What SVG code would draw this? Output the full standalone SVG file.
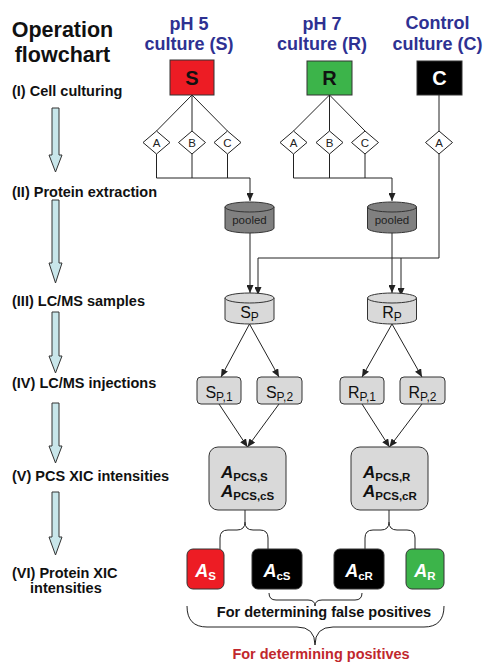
<svg xmlns="http://www.w3.org/2000/svg" width="484" height="663" viewBox="0 0 484 663">
<defs>
<style>
text{font-family:"Liberation Sans",Arial,sans-serif}
.title{font-size:21.5px;font-weight:bold;fill:#111}
.hdr{font-size:18px;font-weight:bold;fill:#2e3192;text-anchor:middle}
.lbl{font-size:14.5px;font-weight:bold;fill:#111}
.step{fill:#c8e6ea;stroke:#333;stroke-width:1}
.box{stroke:#333;stroke-width:1}
.letter{font-size:20px;font-weight:bold;text-anchor:middle}
.dia{fill:#fff;stroke:#222;stroke-width:1}
.dtxt{font-size:11.5px;text-anchor:middle;fill:#222}
.cyl-d{fill:#808080;stroke:#333;stroke-width:1}
.cyl-l{fill:#d9d9d9;stroke:#333;stroke-width:1}
.reg{font-size:16px;fill:#111;text-anchor:middle}
.inj{fill:#d9d9d9;stroke:#333;stroke-width:1}
.ab{font-size:17px;font-weight:bold;font-style:italic;fill:#111}
.sb{font-size:11.5px;font-weight:bold;font-style:normal}
.res{font-size:18px;font-weight:bold;font-style:italic;fill:#fff;text-anchor:middle}
.conn{fill:none;stroke:#222;stroke-width:1}
.brace{fill:none;stroke:#222;stroke-width:1}
.note{font-size:14.5px;font-weight:bold;text-anchor:middle}
</style>
<marker id="ah" markerUnits="userSpaceOnUse" markerWidth="8" markerHeight="7" refX="8" refY="3.5" orient="auto">
<path d="M0,0 L8,3.5 L0,7 z" fill="#222"/>
</marker>
</defs>
<rect width="484" height="663" fill="#fff"/>

<g id="title">
<text class="title" x="62.5" y="37" text-anchor="middle">Operation</text>
<text class="title" x="62.5" y="62" text-anchor="middle">flowchart</text>
</g>

<g id="steps">
<text class="lbl" x="12" y="96">(I) Cell culturing</text>
<text class="lbl" x="12" y="197">(II) Protein extraction</text>
<text class="lbl" x="12" y="306">(III) LC/MS samples</text>
<text class="lbl" x="12" y="388">(IV) LC/MS injections</text>
<text class="lbl" x="12" y="481">(V) PCS XIC intensities</text>
<text class="lbl" x="12" y="578">(VI) Protein XIC</text>
<text class="lbl" x="30" y="593">intensities</text>
<polygon class="step" points="52,108 59,108 59,155 62,155 55.5,172 49,155 52,155"/>
<polygon class="step" points="52,200 59,200 59,263 62,263 55.5,283 49,263 52,263"/>
<polygon class="step" points="52,312 59,312 59,356 62,356 55.5,373 49,356 52,356"/>
<polygon class="step" points="52,403 59,403 59,446 62,446 55.5,463 49,446 52,446"/>
<polygon class="step" points="52,492 59,492 59,537 62,537 55.5,555 49,537 52,537"/>
</g>

<g id="headers">
<text class="hdr" x="189" y="30">pH 5</text>
<text class="hdr" x="189" y="50">culture (S)</text>
<text class="hdr" x="322" y="30">pH 7</text>
<text class="hdr" x="322" y="50">culture (R)</text>
<text class="hdr" x="437.5" y="29">Control</text>
<text class="hdr" x="437.5" y="50">culture (C)</text>
</g>

<g id="connectors">
<line class="conn" x1="192" y1="95" x2="156.5" y2="131"/>
<line class="conn" x1="192" y1="95" x2="192" y2="131"/>
<line class="conn" x1="192" y1="95" x2="227.5" y2="131"/>
<line class="conn" x1="329.5" y1="95" x2="293.5" y2="131"/>
<line class="conn" x1="329.5" y1="95" x2="329.5" y2="131"/>
<line class="conn" x1="329.5" y1="95" x2="365" y2="131"/>
<line class="conn" x1="439" y1="95" x2="439" y2="131"/>
<path class="conn" d="M156.5 154 V178 M192 154 V178 M227.5 154 V178"/>
<polyline class="conn" points="156.5,178 250,178 250,201" marker-end="url(#ah)"/>
<path class="conn" d="M293.5 154 V178 M329.5 154 V178 M365 154 V178"/>
<polyline class="conn" points="293.5,178 392,178 392,201" marker-end="url(#ah)"/>
<polyline class="conn" points="439,154 439,258 258,258 258,295" marker-end="url(#ah)"/>
<line class="conn" x1="401" y1="258" x2="401" y2="296" marker-end="url(#ah)"/>
<line class="conn" x1="250" y1="233" x2="250" y2="293" marker-end="url(#ah)"/>
<line class="conn" x1="392" y1="233" x2="392" y2="293" marker-end="url(#ah)"/>
<line class="conn" x1="249.5" y1="324" x2="221" y2="377" marker-end="url(#ah)"/>
<line class="conn" x1="249.5" y1="324" x2="279" y2="377" marker-end="url(#ah)"/>
<line class="conn" x1="392" y1="324" x2="362" y2="377" marker-end="url(#ah)"/>
<line class="conn" x1="392" y1="324" x2="422" y2="377" marker-end="url(#ah)"/>
<line class="conn" x1="219" y1="404" x2="247.5" y2="447" marker-end="url(#ah)"/>
<line class="conn" x1="279" y1="404" x2="247.5" y2="447" marker-end="url(#ah)"/>
<line class="conn" x1="362" y1="404" x2="389.5" y2="447" marker-end="url(#ah)"/>
<line class="conn" x1="422" y1="404" x2="389.5" y2="447" marker-end="url(#ah)"/>
<path class="brace" d="M245 510 V522 Q245 530 237 530 H228 Q220 530 220 538 V549 M245 522 Q245 530 253 530 H260 Q268 530 268 538 V549"/>
<path class="brace" d="M389 510 V522 Q389 530 381 530 H373 Q365 530 365 538 V549 M389 522 Q389 530 397 530 H407 Q415 530 415 538 V549"/>
<path class="brace" d="M269 593 Q269 600 276 600 H308 Q315 600 315 606 Q315 600 322 600 H355 Q362 600 362 593"/>
<path class="brace" d="M187 606 Q187 627 207 627 H297 Q315 627 315 645 Q315 627 333 627 H424 Q444 627 444 606"/>
</g>

<g id="node-S">
<rect class="box" x="170" y="60" width="44" height="35" fill="#ed1c24"/>
<text class="letter" x="192" y="85" fill="#111">S</text>
</g>
<g id="node-R">
<rect class="box" x="307" y="61" width="45" height="34" fill="#3cb44a"/>
<text class="letter" x="329.5" y="85" fill="#111">R</text>
</g>
<g id="node-C">
<rect class="box" x="417" y="61" width="45" height="34" fill="#000"/>
<text class="letter" x="439.5" y="85" fill="#fff">C</text>
</g>

<g id="diamond-SA"><polygon class="dia" points="156.5,131 170,142.5 156.5,154 143,142.5"/><text class="dtxt" x="156.5" y="146.5">A</text></g>
<g id="diamond-SB"><polygon class="dia" points="192,131 205.5,142.5 192,154 178.5,142.5"/><text class="dtxt" x="192" y="146.5">B</text></g>
<g id="diamond-SC"><polygon class="dia" points="227.5,131 241,142.5 227.5,154 214,142.5"/><text class="dtxt" x="227.5" y="146.5">C</text></g>
<g id="diamond-RA"><polygon class="dia" points="293.5,131 307,142.5 293.5,154 280,142.5"/><text class="dtxt" x="293.5" y="146.5">A</text></g>
<g id="diamond-RB"><polygon class="dia" points="329.5,131 343,142.5 329.5,154 316,142.5"/><text class="dtxt" x="329.5" y="146.5">B</text></g>
<g id="diamond-RC"><polygon class="dia" points="365,131 378.5,142.5 365,154 351.5,142.5"/><text class="dtxt" x="365" y="146.5">C</text></g>
<g id="diamond-CA"><polygon class="dia" points="439,131 452.5,142.5 439,154 425.5,142.5"/><text class="dtxt" x="439" y="146.5">A</text></g>

<g id="pooled-S">
<path class="cyl-d" d="M225 207 V228 A24.5 5 0 0 0 274 228 V207"/>
<ellipse class="cyl-d" cx="249.5" cy="207" rx="24.5" ry="5"/>
<text class="dtxt" x="249.5" y="224" font-size="12.5" fill="#111">pooled</text>
</g>
<g id="pooled-R">
<path class="cyl-d" d="M367.5 207 V228 A24.5 5 0 0 0 416.5 228 V207"/>
<ellipse class="cyl-d" cx="392" cy="207" rx="24.5" ry="5"/>
<text class="dtxt" x="392" y="224" font-size="12.5" fill="#111">pooled</text>
</g>

<g id="sample-SP">
<path class="cyl-l" d="M225 298 V319 A24.5 5 0 0 0 274 319 V298"/>
<ellipse class="cyl-l" cx="249.5" cy="298" rx="24.5" ry="5"/>
<text class="reg" x="249.5" y="318">S<tspan font-size="12" dy="3">P</tspan></text>
</g>
<g id="sample-RP">
<path class="cyl-l" d="M367.5 298 V319 A24.5 5 0 0 0 416.5 319 V298"/>
<ellipse class="cyl-l" cx="392" cy="298" rx="24.5" ry="5"/>
<text class="reg" x="392" y="318">R<tspan font-size="12" dy="3">P</tspan></text>
</g>

<g id="inj-SP1"><rect class="inj" x="197" y="377" width="44" height="27" rx="4"/><text class="reg" x="219" y="398">S<tspan font-size="12" dy="3">P,1</tspan></text></g>
<g id="inj-SP2"><rect class="inj" x="257" y="377" width="45" height="27" rx="4"/><text class="reg" x="279.5" y="398">S<tspan font-size="12" dy="3">P,2</tspan></text></g>
<g id="inj-RP1"><rect class="inj" x="340" y="377" width="44" height="27" rx="4"/><text class="reg" x="362" y="398">R<tspan font-size="12" dy="3">P,1</tspan></text></g>
<g id="inj-RP2"><rect class="inj" x="400" y="377" width="45" height="27" rx="4"/><text class="reg" x="422.5" y="398">R<tspan font-size="12" dy="3">P,2</tspan></text></g>

<g id="pcs-S">
<rect class="inj" x="209" y="447" width="77" height="63" rx="9"/>
<text class="ab" x="221" y="478">A<tspan class="sb" dy="3">PCS,S</tspan></text>
<text class="ab" x="221" y="497">A<tspan class="sb" dy="3">PCS,cS</tspan></text>
</g>
<g id="pcs-R">
<rect class="inj" x="351" y="447" width="77" height="63" rx="9"/>
<text class="ab" x="363" y="478">A<tspan class="sb" dy="3">PCS,R</tspan></text>
<text class="ab" x="363" y="497">A<tspan class="sb" dy="3">PCS,cR</tspan></text>
</g>

<g id="res-AS"><rect class="box" x="187" y="549" width="37" height="40" rx="6" fill="#ed1c24"/><text class="res" x="205.5" y="577">A<tspan class="sb" font-size="12" dy="3">S</tspan></text></g>
<g id="res-AcS"><rect class="box" x="252" y="549" width="50" height="40" rx="6" fill="#000"/><text class="res" x="277" y="577">A<tspan class="sb" font-size="12" dy="3">cS</tspan></text></g>
<g id="res-AcR"><rect class="box" x="334" y="549" width="50" height="40" rx="6" fill="#000"/><text class="res" x="359" y="577">A<tspan class="sb" font-size="12" dy="3">cR</tspan></text></g>
<g id="res-AR"><rect class="box" x="406" y="549" width="38" height="40" rx="6" fill="#3cb44a"/><text class="res" x="425" y="577">A<tspan class="sb" font-size="12" dy="3">R</tspan></text></g>

<g id="notes">
<text class="note" x="324" y="617" fill="#111">For determining false positives</text>
<text class="note" x="321" y="659" fill="#c1272d">For determining positives</text>
</g>
</svg>
